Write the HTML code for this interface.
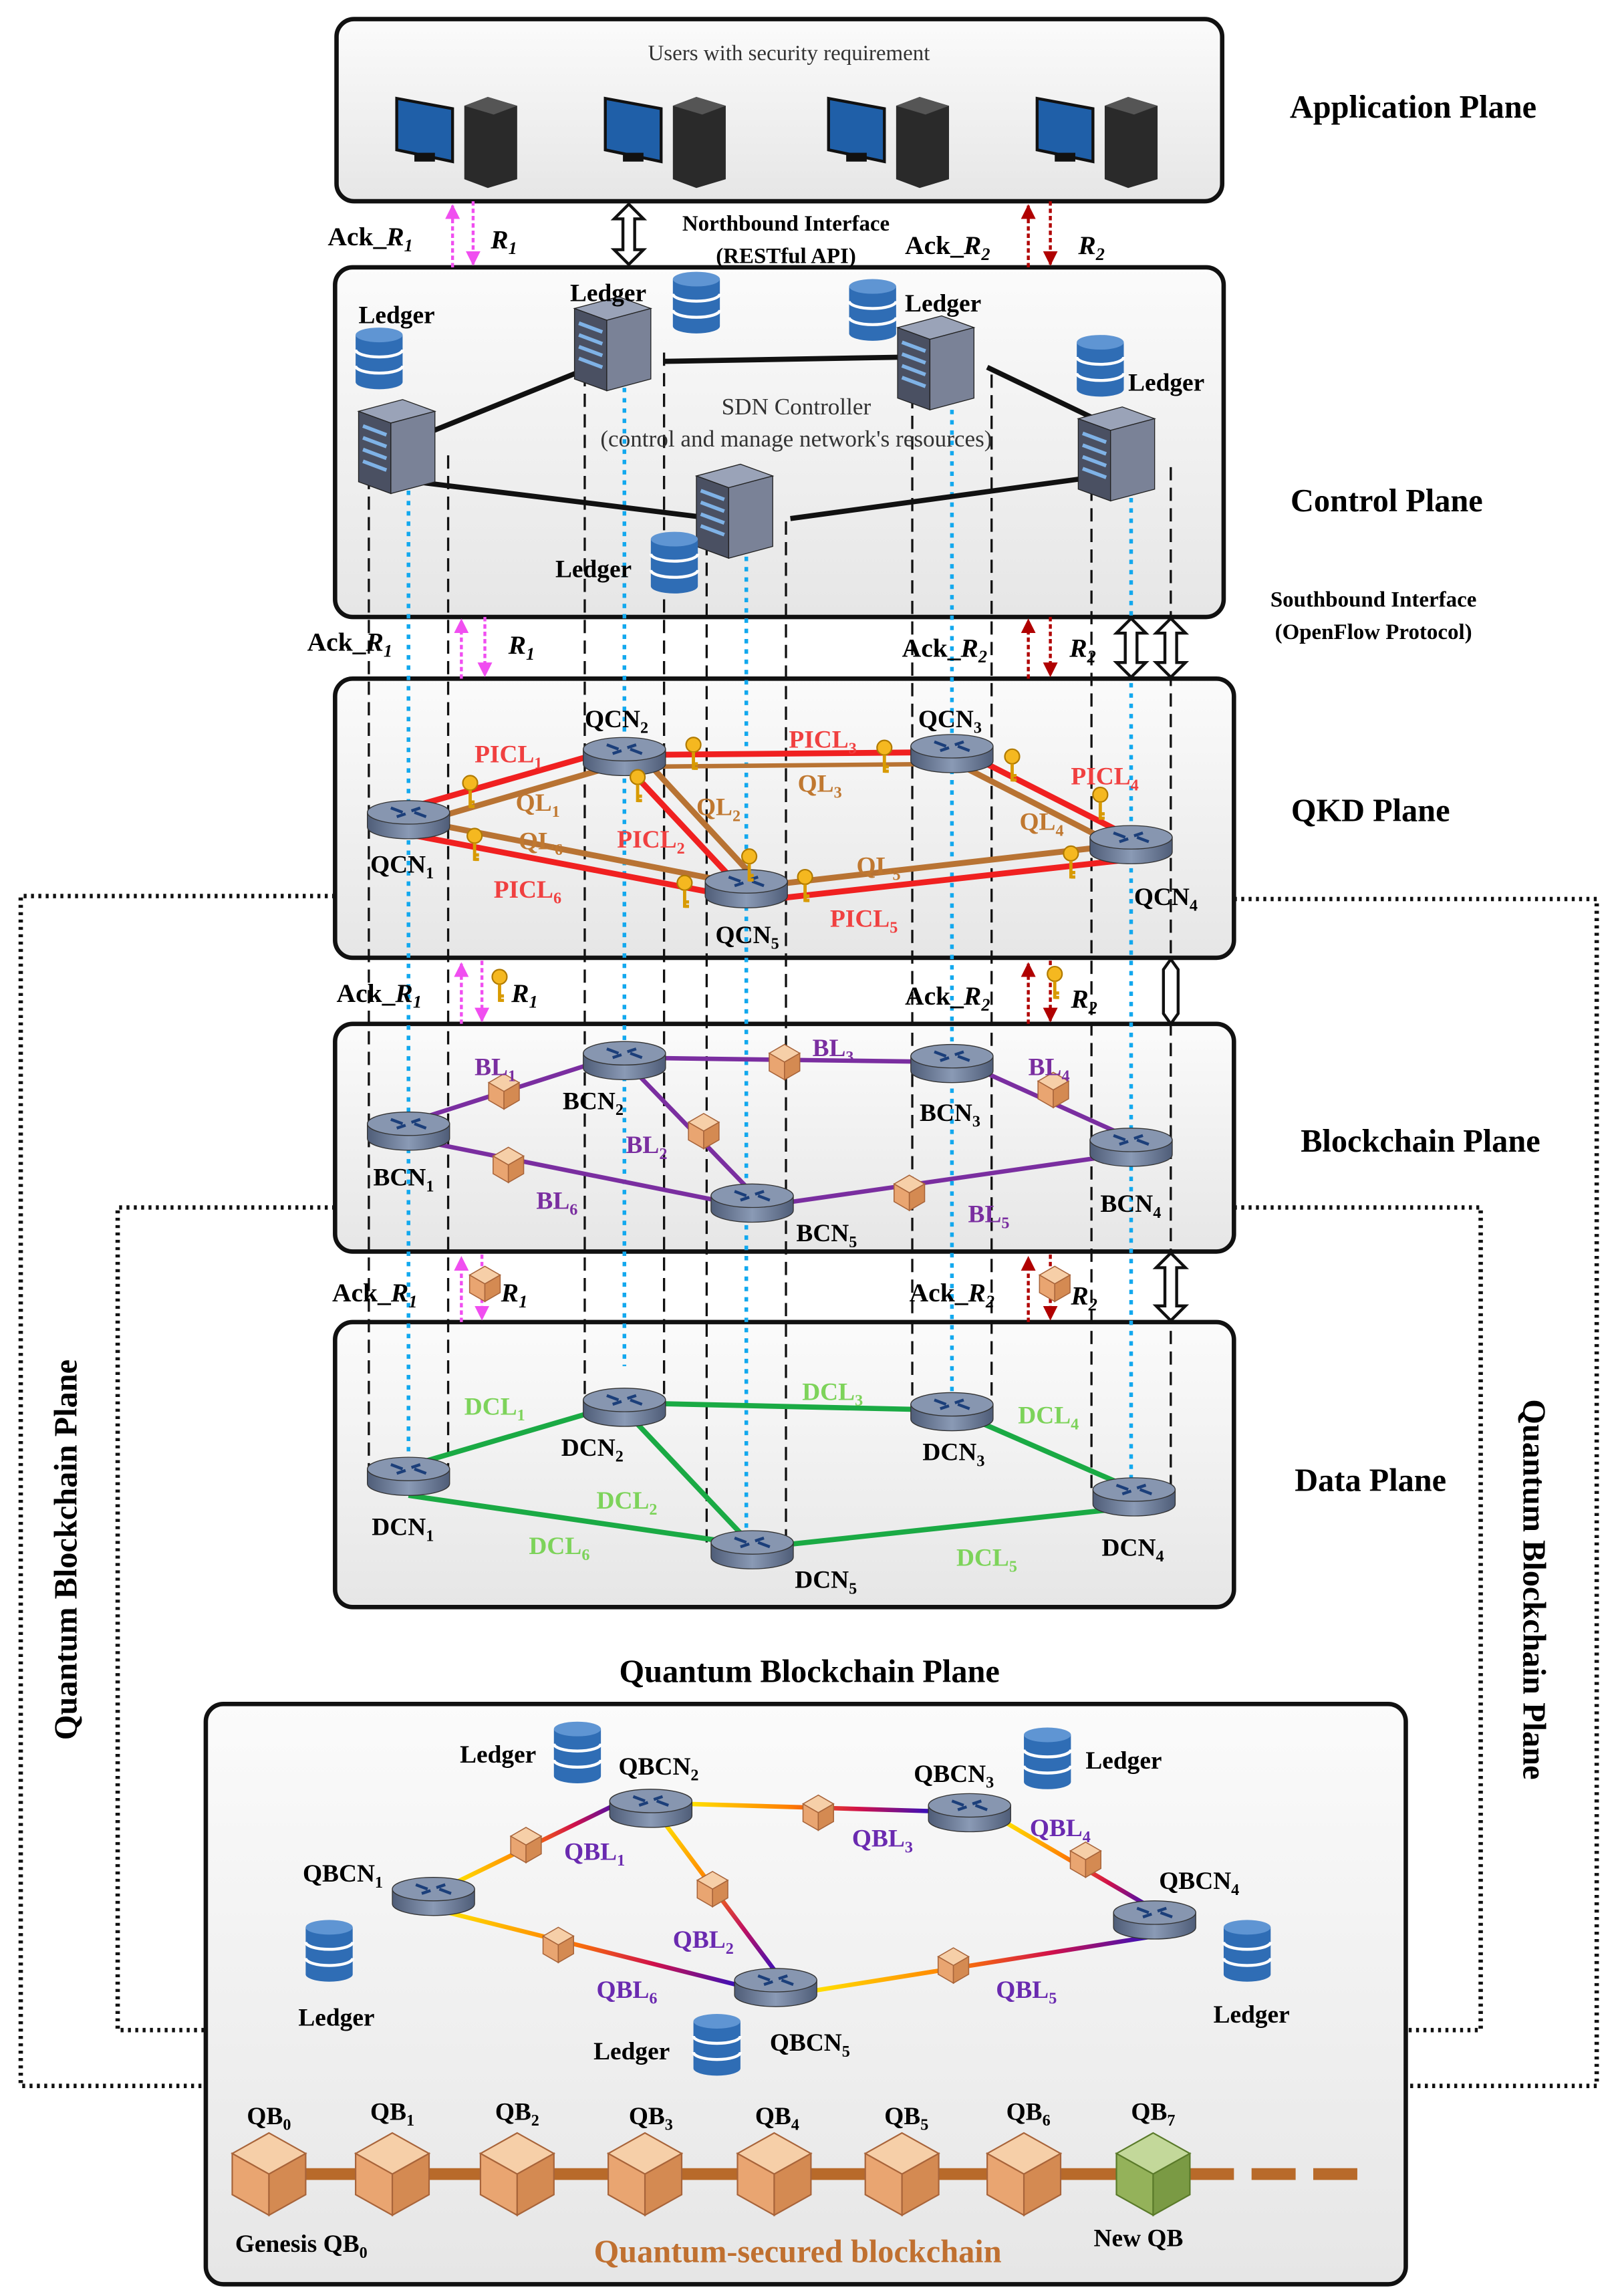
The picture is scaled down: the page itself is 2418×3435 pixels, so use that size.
<!DOCTYPE html>
<html><head><meta charset="utf-8"><style>html,body{margin:0;padding:0;background:#fff}svg{display:block}</style></head>
<body>
<svg xmlns="http://www.w3.org/2000/svg" width="2418" height="3435" viewBox="0 0 1100 1563" font-family="'Liberation Serif', serif">
<defs>
<linearGradient id="pl" x1="0" y1="0" x2="0" y2="1"><stop offset="0" stop-color="#fbfbfb"/><stop offset="1" stop-color="#e6e6e6"/></linearGradient>
<linearGradient id="rt" x1="0" y1="0" x2="1" y2="0"><stop offset="0" stop-color="#4f5d78"/><stop offset=".5" stop-color="#8a9ab5"/><stop offset="1" stop-color="#4f5d78"/></linearGradient>
<g id="router">
 <path d="M-28,0 L-28,10 A28,8 0 0 0 28,10 L28,0 Z" fill="url(#rt)" stroke="#333" stroke-width=".6"/>
 <ellipse cx="0" cy="0" rx="28" ry="8" fill="#8796b0" stroke="#333" stroke-width=".6"/>
 <path d="M-12,-3 L-4,0 M4,0 L12,3 M-8,3 L-2,1 M2,-1 L8,-3" stroke="#1c3f7a" stroke-width="2"/>
</g>
<g id="cube">
 <polygon points="0,-12 10.4,-6 0,0 -10.4,-6" fill="#f6cfa8" stroke="#a8643a" stroke-width=".7"/>
 <polygon points="-10.4,-6 0,0 0,12 -10.4,6" fill="#e9a571" stroke="#a8643a" stroke-width=".7"/>
 <polygon points="0,0 10.4,-6 10.4,6 0,12" fill="#d48a52" stroke="#a8643a" stroke-width=".7"/>
</g>
<g id="bigcube">
 <polygon points="0,-28 25,-14 0,0 -25,-14" fill="#f6cfa8" stroke="#a8643a"/>
 <polygon points="-25,-14 0,0 0,28 -25,14" fill="#e9a571" stroke="#a8643a"/>
 <polygon points="0,0 25,-14 25,14 0,28" fill="#d48a52" stroke="#a8643a"/>
</g>
<g id="db">
 <path d="M-16,-16 L-16,16 A16,5 0 0 0 16,16 L16,-16 Z" fill="#2f6db5"/>
 <ellipse cx="0" cy="-16" rx="16" ry="5" fill="#5f95d3"/>
 <path d="M-16,-6 A16,5 0 0 0 16,-6 M-16,5 A16,5 0 0 0 16,5" stroke="#fff" stroke-width="2" fill="none"/>
</g>
<g id="server">
 <polygon points="-22,-22 8,-30 30,-22 0,-14" fill="#9aa3b8" stroke="#222" stroke-width=".6"/>
 <polygon points="-22,-22 0,-14 0,34 -22,26" fill="#4a5062" stroke="#222" stroke-width=".6"/>
 <polygon points="0,-14 30,-22 30,26 0,34" fill="#7a8297" stroke="#222" stroke-width=".6"/>
 <path d="M-19,-12 L-3,-6 M-19,-4 L-3,2 M-19,4 L-3,10 M-19,12 L-3,18" stroke="#7fb2e6" stroke-width="2.5"/>
</g>
<g id="pc">
 <polygon points="-40,-25 -2,-18 -2,18 -40,10" fill="#1f5fa8" stroke="#111" stroke-width="2"/>
 <rect x="-28" y="12" width="14" height="6" fill="#111"/>
 <polygon points="6,-20 22,-26 42,-20 42,30 22,36 6,30" fill="#2a2a2a"/>
 <polygon points="6,-20 22,-26 42,-20 26,-14" fill="#555"/>
</g>
<g id="key"><circle cx="0" cy="-5" r="5" fill="#f5b820" stroke="#b07a00"/><path d="M0,0 L0,12 M0,8 L3,8 M0,11 L3,11" stroke="#d89a00" stroke-width="2.2"/></g>
<marker id="am" viewBox="0 0 10 10" refX="9" refY="5" markerWidth="5" markerHeight="5" orient="auto"><path d="M0,0 L10,5 L0,10 Z" fill="#f04ef0"/></marker>
<marker id="ar" viewBox="0 0 10 10" refX="9" refY="5" markerWidth="5" markerHeight="5" orient="auto"><path d="M0,0 L10,5 L0,10 Z" fill="#b00000"/></marker>
<linearGradient id="g1" gradientUnits="userSpaceOnUse" x1="310" y1="1280" x2="425" y2="1225"><stop offset="0" stop-color="#ffe000"/><stop offset=".4" stop-color="#ff8000"/><stop offset=".7" stop-color="#d0104a"/><stop offset="1" stop-color="#3010c0"/></linearGradient>
<linearGradient id="g2" gradientUnits="userSpaceOnUse" x1="450" y1="1240" x2="530" y2="1345"><stop offset="0" stop-color="#ffe000"/><stop offset=".4" stop-color="#ff8000"/><stop offset=".7" stop-color="#c01060"/><stop offset="1" stop-color="#3010c0"/></linearGradient>
<linearGradient id="g3" gradientUnits="userSpaceOnUse" x1="470" y1="1228" x2="635" y2="1233"><stop offset="0" stop-color="#ffe000"/><stop offset=".4" stop-color="#ff8000"/><stop offset=".7" stop-color="#d0104a"/><stop offset="1" stop-color="#3010c0"/></linearGradient>
<linearGradient id="g4" gradientUnits="userSpaceOnUse" x1="685" y1="1240" x2="785" y2="1298"><stop offset="0" stop-color="#ffe000"/><stop offset=".4" stop-color="#ff8000"/><stop offset=".7" stop-color="#d0104a"/><stop offset="1" stop-color="#3010c0"/></linearGradient>
<linearGradient id="g5" gradientUnits="userSpaceOnUse" x1="555" y1="1355" x2="785" y2="1318"><stop offset="0" stop-color="#ffe000"/><stop offset=".4" stop-color="#ff8000"/><stop offset=".7" stop-color="#d0104a"/><stop offset="1" stop-color="#3010c0"/></linearGradient>
<linearGradient id="g6" gradientUnits="userSpaceOnUse" x1="305" y1="1300" x2="505" y2="1352"><stop offset="0" stop-color="#ffe000"/><stop offset=".4" stop-color="#ff8000"/><stop offset=".7" stop-color="#d0104a"/><stop offset="1" stop-color="#3010c0"/></linearGradient>
</defs>

<!-- dotted outer loops -->
<g fill="none" stroke="#111" stroke-width="3" stroke-dasharray="2,3">
<polyline points="228,610 14,610 14,1420 140,1420"/>
<polyline points="840,612 1087,612 1087,1420 957,1420"/>
<polyline points="228,822 80,822 80,1382 140,1382"/>
<polyline points="840,822 1008,822 1008,1382 957,1382"/>
</g>
<text transform="translate(52,1055) rotate(-90)" text-anchor="middle" font-size="22" font-weight="bold">Quantum Blockchain Plane</text>
<text transform="translate(1037,1082) rotate(90)" text-anchor="middle" font-size="22" font-weight="bold">Quantum Blockchain Plane</text>

<!-- planes -->
<g stroke="#111" stroke-width="3" fill="url(#pl)">
<rect x="229" y="13" width="603" height="124" rx="12"/>
<rect x="228" y="182" width="605" height="238" rx="12"/>
<rect x="228" y="462" width="612" height="190" rx="12"/>
<rect x="228" y="697" width="612" height="155" rx="12"/>
<rect x="228" y="900" width="612" height="194" rx="12"/>
<rect x="140" y="1160" width="817" height="395" rx="12"/>
</g>
<g font-size="22" font-weight="bold">
<text x="962" y="80" text-anchor="middle">Application Plane</text>
<text x="944" y="348" text-anchor="middle">Control Plane</text>
<text x="933" y="559" text-anchor="middle">QKD Plane</text>
<text x="967" y="784" text-anchor="middle">Blockchain Plane</text>
<text x="933" y="1015" text-anchor="middle">Data Plane</text>
<text x="551" y="1145" text-anchor="middle">Quantum Blockchain Plane</text>
</g>

<!-- application -->
<text x="537" y="41" text-anchor="middle" font-size="15" fill="#333">Users with security requirement</text>
<use href="#pc" x="310" y="92"/><use href="#pc" x="452" y="92"/><use href="#pc" x="604" y="92"/><use href="#pc" x="746" y="92"/>

<!-- vertical dashed lines -->
<g stroke="#111" stroke-width="1.5" stroke-dasharray="9,5" fill="none">
<path d="M251,310 V1005 M305,310 V1005 M398,240 V957 M452,240 V957 M621,255 V960 M675,255 V960 M743,318 V1018 M797,318 V1018 M481,355 V1054 M535,355 V1054"/>
</g>
<g stroke="#12a8ee" stroke-width="2.5" stroke-dasharray="3,4" fill="none">
<path d="M278,320 V1000 M425,250 V930 M648,265 V950 M770,325 V1010 M508,365 V1050"/>
</g>

<!-- control plane -->
<g stroke="#111" stroke-width="3.5" fill="none">
<path d="M278,300 L402,250 M452,246 L622,243 M672,250 L745,285 M275,327 L486,353 M538,353 L743,325"/>
</g>
<use href="#server" x="266" y="302"/><use href="#server" x="413" y="232"/><use href="#server" x="633" y="245"/><use href="#server" x="756" y="307"/><use href="#server" x="496" y="346"/>
<use href="#db" x="258" y="244"/><use href="#db" x="474" y="206"/><use href="#db" x="594" y="211"/><use href="#db" x="749" y="249"/><use href="#db" x="459" y="383"/>
<g font-size="17" font-weight="bold">
<text x="244" y="220">Ledger</text><text x="388" y="205">Ledger</text><text x="616" y="212">Ledger</text><text x="768" y="266">Ledger</text><text x="378" y="393">Ledger</text>
</g>
<text x="542" y="282" text-anchor="middle" font-size="16" fill="#333">SDN Controller</text>
<text x="542" y="304" text-anchor="middle" font-size="16" fill="#333">(control and manage network's resources)</text>

<!-- QKD plane links -->
<g fill="none" stroke-width="4">
<path d="M278,550 L425,508" stroke="#f02020"/><path d="M285,560 L430,518" stroke="#b87333"/>
<path d="M425,514 L648,512" stroke="#f02020"/><path d="M430,522 L650,520" stroke="#b87333" stroke-width="3"/>
<path d="M648,508 L770,570" stroke="#f02020"/><path d="M648,518 L765,578" stroke="#b87333"/>
<path d="M425,520 L500,600" stroke="#f02020"/><path d="M438,516 L512,596" stroke="#b87333"/>
<path d="M278,568 L508,612" stroke="#f02020"/><path d="M280,558 L505,602" stroke="#b87333"/>
<path d="M508,614 L770,585" stroke="#f02020"/><path d="M510,604 L765,575" stroke="#b87333"/>
</g>
<use href="#router" x="278" y="553"/><use href="#router" x="425" y="510"/><use href="#router" x="648" y="508"/><use href="#router" x="770" y="570"/><use href="#router" x="508" y="600"/>
<use href="#key" x="320" y="538"/><use href="#key" x="323" y="574"/><use href="#key" x="434" y="534"/><use href="#key" x="472" y="512"/><use href="#key" x="602" y="514"/><use href="#key" x="689" y="520"/><use href="#key" x="749" y="546"/><use href="#key" x="729" y="586"/><use href="#key" x="548" y="602"/><use href="#key" x="466" y="606"/><use href="#key" x="510" y="588"/>
<g font-size="17" font-weight="bold" fill="#f04040">
<text x="323" y="519">PICL<tspan font-size="11" dy="4">1</tspan></text>
<text x="537" y="509">PICL<tspan font-size="11" dy="4">3</tspan></text>
<text x="729" y="534">PICL<tspan font-size="11" dy="4">4</tspan></text>
<text x="420" y="577">PICL<tspan font-size="11" dy="4">2</tspan></text>
<text x="336" y="611">PICL<tspan font-size="11" dy="4">6</tspan></text>
<text x="565" y="631">PICL<tspan font-size="11" dy="4">5</tspan></text>
</g>
<g font-size="17" font-weight="bold" fill="#c07830">
<text x="351" y="552">QL<tspan font-size="11" dy="4">1</tspan></text>
<text x="474" y="555">QL<tspan font-size="11" dy="4">2</tspan></text>
<text x="543" y="539">QL<tspan font-size="11" dy="4">3</tspan></text>
<text x="694" y="565">QL<tspan font-size="11" dy="4">4</tspan></text>
<text x="583" y="595">QL<tspan font-size="11" dy="4">5</tspan></text>
<text x="353" y="578">QL<tspan font-size="11" dy="4">6</tspan></text>
</g>
<g font-size="17" font-weight="bold">
<text x="252" y="594">QCN<tspan font-size="11" dy="4">1</tspan></text>
<text x="398" y="495">QCN<tspan font-size="11" dy="4">2</tspan></text>
<text x="625" y="495">QCN<tspan font-size="11" dy="4">3</tspan></text>
<text x="772" y="616">QCN<tspan font-size="11" dy="4">4</tspan></text>
<text x="487" y="642">QCN<tspan font-size="11" dy="4">5</tspan></text>
</g>

<!-- blockchain plane -->
<g fill="none" stroke="#7a2ea0" stroke-width="3">
<path d="M278,764 L425,717 M425,720 L648,723 M648,720 L770,775 M425,722 L512,812 M278,775 L512,822 M512,822 L770,785"/>
</g>
<use href="#router" x="278" y="765"/><use href="#router" x="425" y="717"/><use href="#router" x="648" y="719"/><use href="#router" x="770" y="776"/><use href="#router" x="512" y="814"/>
<use href="#cube" x="343" y="743"/><use href="#cube" x="534" y="723"/><use href="#cube" x="717" y="742"/><use href="#cube" x="479" y="770"/><use href="#cube" x="346" y="793"/><use href="#cube" x="619" y="812"/>
<g font-size="17" font-weight="bold" fill="#7a2ea0">
<text x="323" y="732">BL<tspan font-size="11" dy="4">1</tspan></text>
<text x="426" y="785">BL<tspan font-size="11" dy="4">2</tspan></text>
<text x="553" y="719">BL<tspan font-size="11" dy="4">3</tspan></text>
<text x="700" y="732">BL<tspan font-size="11" dy="4">4</tspan></text>
<text x="659" y="832">BL<tspan font-size="11" dy="4">5</tspan></text>
<text x="365" y="823">BL<tspan font-size="11" dy="4">6</tspan></text>
</g>
<g font-size="17" font-weight="bold">
<text x="254" y="807">BCN<tspan font-size="11" dy="4">1</tspan></text>
<text x="383" y="755">BCN<tspan font-size="11" dy="4">2</tspan></text>
<text x="626" y="763">BCN<tspan font-size="11" dy="4">3</tspan></text>
<text x="749" y="825">BCN<tspan font-size="11" dy="4">4</tspan></text>
<text x="542" y="845">BCN<tspan font-size="11" dy="4">5</tspan></text>
</g>

<!-- data plane -->
<g fill="none" stroke="#1aaa44" stroke-width="3.5">
<path d="M278,998 L425,955 M425,955 L648,960 M648,960 L772,1014 M425,960 L510,1050 M278,1018 L512,1052 M512,1054 L772,1026"/>
</g>
<use href="#router" x="278" y="1000"/><use href="#router" x="425" y="953"/><use href="#router" x="648" y="956"/><use href="#router" x="772" y="1014"/><use href="#router" x="512" y="1050"/>
<g font-size="17" font-weight="bold" fill="#7dd35a">
<text x="316" y="963">DCL<tspan font-size="11" dy="4">1</tspan></text>
<text x="406" y="1027">DCL<tspan font-size="11" dy="4">2</tspan></text>
<text x="546" y="953">DCL<tspan font-size="11" dy="4">3</tspan></text>
<text x="693" y="969">DCL<tspan font-size="11" dy="4">4</tspan></text>
<text x="651" y="1066">DCL<tspan font-size="11" dy="4">5</tspan></text>
<text x="360" y="1058">DCL<tspan font-size="11" dy="4">6</tspan></text>
</g>
<g font-size="17" font-weight="bold">
<text x="253" y="1045">DCN<tspan font-size="11" dy="4">1</tspan></text>
<text x="382" y="991">DCN<tspan font-size="11" dy="4">2</tspan></text>
<text x="628" y="994">DCN<tspan font-size="11" dy="4">3</tspan></text>
<text x="750" y="1059">DCN<tspan font-size="11" dy="4">4</tspan></text>
<text x="541" y="1081">DCN<tspan font-size="11" dy="4">5</tspan></text>
</g>

<!-- inter-plane arrows -->
<g fill="none" stroke-width="2" stroke-dasharray="3,2">
<path d="M308,182 V140" stroke="#f04ef0" marker-end="url(#am)"/><path d="M322,137 V180" stroke="#f04ef0" marker-end="url(#am)"/>
<path d="M314,462 V422" stroke="#f04ef0" marker-end="url(#am)"/><path d="M330,420 V460" stroke="#f04ef0" marker-end="url(#am)"/>
<path d="M314,697 V656" stroke="#f04ef0" marker-end="url(#am)"/><path d="M328,654 V695" stroke="#f04ef0" marker-end="url(#am)"/>
<path d="M314,900 V856" stroke="#f04ef0" marker-end="url(#am)"/><path d="M328,854 V898" stroke="#f04ef0" marker-end="url(#am)"/>
<path d="M700,182 V140" stroke="#b00000" marker-end="url(#ar)"/><path d="M715,137 V180" stroke="#b00000" marker-end="url(#ar)"/>
<path d="M700,462 V422" stroke="#b00000" marker-end="url(#ar)"/><path d="M715,420 V460" stroke="#b00000" marker-end="url(#ar)"/>
<path d="M700,697 V656" stroke="#b00000" marker-end="url(#ar)"/><path d="M715,654 V695" stroke="#b00000" marker-end="url(#ar)"/>
<path d="M700,900 V856" stroke="#b00000" marker-end="url(#ar)"/><path d="M715,854 V898" stroke="#b00000" marker-end="url(#ar)"/>
</g>
<use href="#key" x="340" y="670"/><use href="#key" x="718" y="668"/><use href="#cube" x="330" y="874"/><use href="#cube" x="718" y="874"/>
<g fill="#fff" stroke="#111" stroke-width="2">
<path d="M428,139 L438,149 L432,149 L432,170 L438,170 L428,180 L418,170 L424,170 L424,149 L418,149 Z"/>
<path d="M770,421 L780,431 L774,431 L774,451 L780,451 L770,461 L760,451 L766,451 L766,431 L760,431 Z"/>
<path d="M797,421 L807,431 L801,431 L801,451 L807,451 L797,461 L787,451 L793,451 L793,431 L787,431 Z"/>
<path d="M797,653 L802,660 L802,690 L797,697 L792,690 L792,660 Z"/>
<path d="M797,853 L807,863 L801,863 L801,889 L807,889 L797,899 L787,889 L793,889 L793,863 L787,863 Z"/>
</g>
<g font-size="18" font-weight="bold">
<text x="223" y="167">Ack_<tspan font-style="italic">R<tspan font-size="12" dy="4">1</tspan></tspan></text><text x="334" y="169" font-style="italic">R<tspan font-size="12" dy="4">1</tspan></text>
<text x="616" y="173">Ack_<tspan font-style="italic">R<tspan font-size="12" dy="4">2</tspan></tspan></text><text x="734" y="173" font-style="italic">R<tspan font-size="12" dy="4">2</tspan></text>
<text x="209" y="443">Ack_<tspan font-style="italic">R<tspan font-size="12" dy="4">1</tspan></tspan></text><text x="346" y="445" font-style="italic">R<tspan font-size="12" dy="4">1</tspan></text>
<text x="614" y="447">Ack_<tspan font-style="italic">R<tspan font-size="12" dy="4">2</tspan></tspan></text><text x="728" y="447" font-style="italic">R<tspan font-size="12" dy="4">2</tspan></text>
<text x="229" y="682">Ack_<tspan font-style="italic">R<tspan font-size="12" dy="4">1</tspan></tspan></text><text x="348" y="682" font-style="italic">R<tspan font-size="12" dy="4">1</tspan></text>
<text x="616" y="684">Ack_<tspan font-style="italic">R<tspan font-size="12" dy="4">2</tspan></tspan></text><text x="729" y="686" font-style="italic">R<tspan font-size="12" dy="4">2</tspan></text>
<text x="226" y="886">Ack_<tspan font-style="italic">R<tspan font-size="12" dy="4">1</tspan></tspan></text><text x="341" y="886" font-style="italic">R<tspan font-size="12" dy="4">1</tspan></text>
<text x="619" y="886">Ack_<tspan font-style="italic">R<tspan font-size="12" dy="4">2</tspan></tspan></text><text x="729" y="888" font-style="italic">R<tspan font-size="12" dy="4">2</tspan></text>
</g>
<g font-size="15" font-weight="bold" text-anchor="middle">
<text x="535" y="157">Northbound Interface</text><text x="535" y="179">(RESTful API)</text>
<text x="935" y="413">Southbound Interface</text><text x="935" y="435">(OpenFlow Protocol)</text>
</g>

<!-- quantum blockchain plane -->
<g fill="none" stroke-width="3">
<path d="M305,1284 L420,1228" stroke="url(#g1)"/>
<path d="M450,1238 L530,1345" stroke="url(#g2)"/>
<path d="M468,1228 L636,1233" stroke="url(#g3)"/>
<path d="M680,1238 L786,1300" stroke="url(#g4)"/>
<path d="M555,1355 L786,1318" stroke="url(#g5)"/>
<path d="M305,1302 L505,1352" stroke="url(#g6)"/>
</g>
<use href="#router" x="295" y="1286"/><use href="#router" x="443" y="1226"/><use href="#router" x="660" y="1229"/><use href="#router" x="786" y="1302"/><use href="#router" x="528" y="1348"/>
<use href="#cube" x="358" y="1256"/><use href="#cube" x="557" y="1234"/><use href="#cube" x="739" y="1266"/><use href="#cube" x="485" y="1286"/><use href="#cube" x="380" y="1324"/><use href="#cube" x="649" y="1338"/>
<use href="#db" x="393" y="1193"/><use href="#db" x="713" y="1197"/><use href="#db" x="224" y="1328"/><use href="#db" x="849" y="1328"/><use href="#db" x="488" y="1392"/>
<g font-size="17" font-weight="bold">
<text x="313" y="1200">Ledger</text><text x="739" y="1204">Ledger</text><text x="203" y="1379">Ledger</text><text x="826" y="1377">Ledger</text><text x="404" y="1402">Ledger</text>
<text x="206" y="1281">QBCN<tspan font-size="11" dy="4">1</tspan></text>
<text x="421" y="1208">QBCN<tspan font-size="11" dy="4">2</tspan></text>
<text x="622" y="1213">QBCN<tspan font-size="11" dy="4">3</tspan></text>
<text x="789" y="1286">QBCN<tspan font-size="11" dy="4">4</tspan></text>
<text x="524" y="1396">QBCN<tspan font-size="11" dy="4">5</tspan></text>
</g>
<g font-size="17" font-weight="bold" fill="#6a2ab0">
<text x="384" y="1266">QBL<tspan font-size="11" dy="4">1</tspan></text>
<text x="458" y="1326">QBL<tspan font-size="11" dy="4">2</tspan></text>
<text x="580" y="1257">QBL<tspan font-size="11" dy="4">3</tspan></text>
<text x="701" y="1250">QBL<tspan font-size="11" dy="4">4</tspan></text>
<text x="678" y="1360">QBL<tspan font-size="11" dy="4">5</tspan></text>
<text x="406" y="1360">QBL<tspan font-size="11" dy="4">6</tspan></text>
</g>

<!-- chain -->
<path d="M183,1480 L760,1480" stroke="#b86a2a" stroke-width="8"/>
<path d="M810,1480 L930,1480" stroke="#b86a2a" stroke-width="8" stroke-dasharray="30,12"/>
<use href="#bigcube" x="183" y="1480"/><use href="#bigcube" x="267" y="1480"/><use href="#bigcube" x="352" y="1480"/><use href="#bigcube" x="439" y="1480"/><use href="#bigcube" x="527" y="1480"/><use href="#bigcube" x="614" y="1480"/><use href="#bigcube" x="697" y="1480"/>
<g transform="translate(785,1480)">
 <polygon points="0,-28 25,-14 0,0 -25,-14" fill="#c3d89a" stroke="#5a7a2a"/>
 <polygon points="-25,-14 0,0 0,28 -25,14" fill="#94b25a" stroke="#5a7a2a"/>
 <polygon points="0,0 25,-14 25,14 0,28" fill="#7a9a44" stroke="#5a7a2a"/>
</g>
<g font-size="17" font-weight="bold" text-anchor="middle">
<text x="183" y="1446">QB<tspan font-size="11" dy="4">0</tspan></text>
<text x="267" y="1443">QB<tspan font-size="11" dy="4">1</tspan></text>
<text x="352" y="1443">QB<tspan font-size="11" dy="4">2</tspan></text>
<text x="443" y="1446">QB<tspan font-size="11" dy="4">3</tspan></text>
<text x="529" y="1446">QB<tspan font-size="11" dy="4">4</tspan></text>
<text x="617" y="1446">QB<tspan font-size="11" dy="4">5</tspan></text>
<text x="700" y="1443">QB<tspan font-size="11" dy="4">6</tspan></text>
<text x="785" y="1443">QB<tspan font-size="11" dy="4">7</tspan></text>
<text x="205" y="1533">Genesis QB<tspan font-size="11" dy="4">0</tspan></text>
<text x="775" y="1529">New QB</text>
</g>
<text x="543" y="1540" text-anchor="middle" font-size="22" font-weight="bold" fill="#c07030">Quantum-secured blockchain</text>
</svg>
</body></html>
